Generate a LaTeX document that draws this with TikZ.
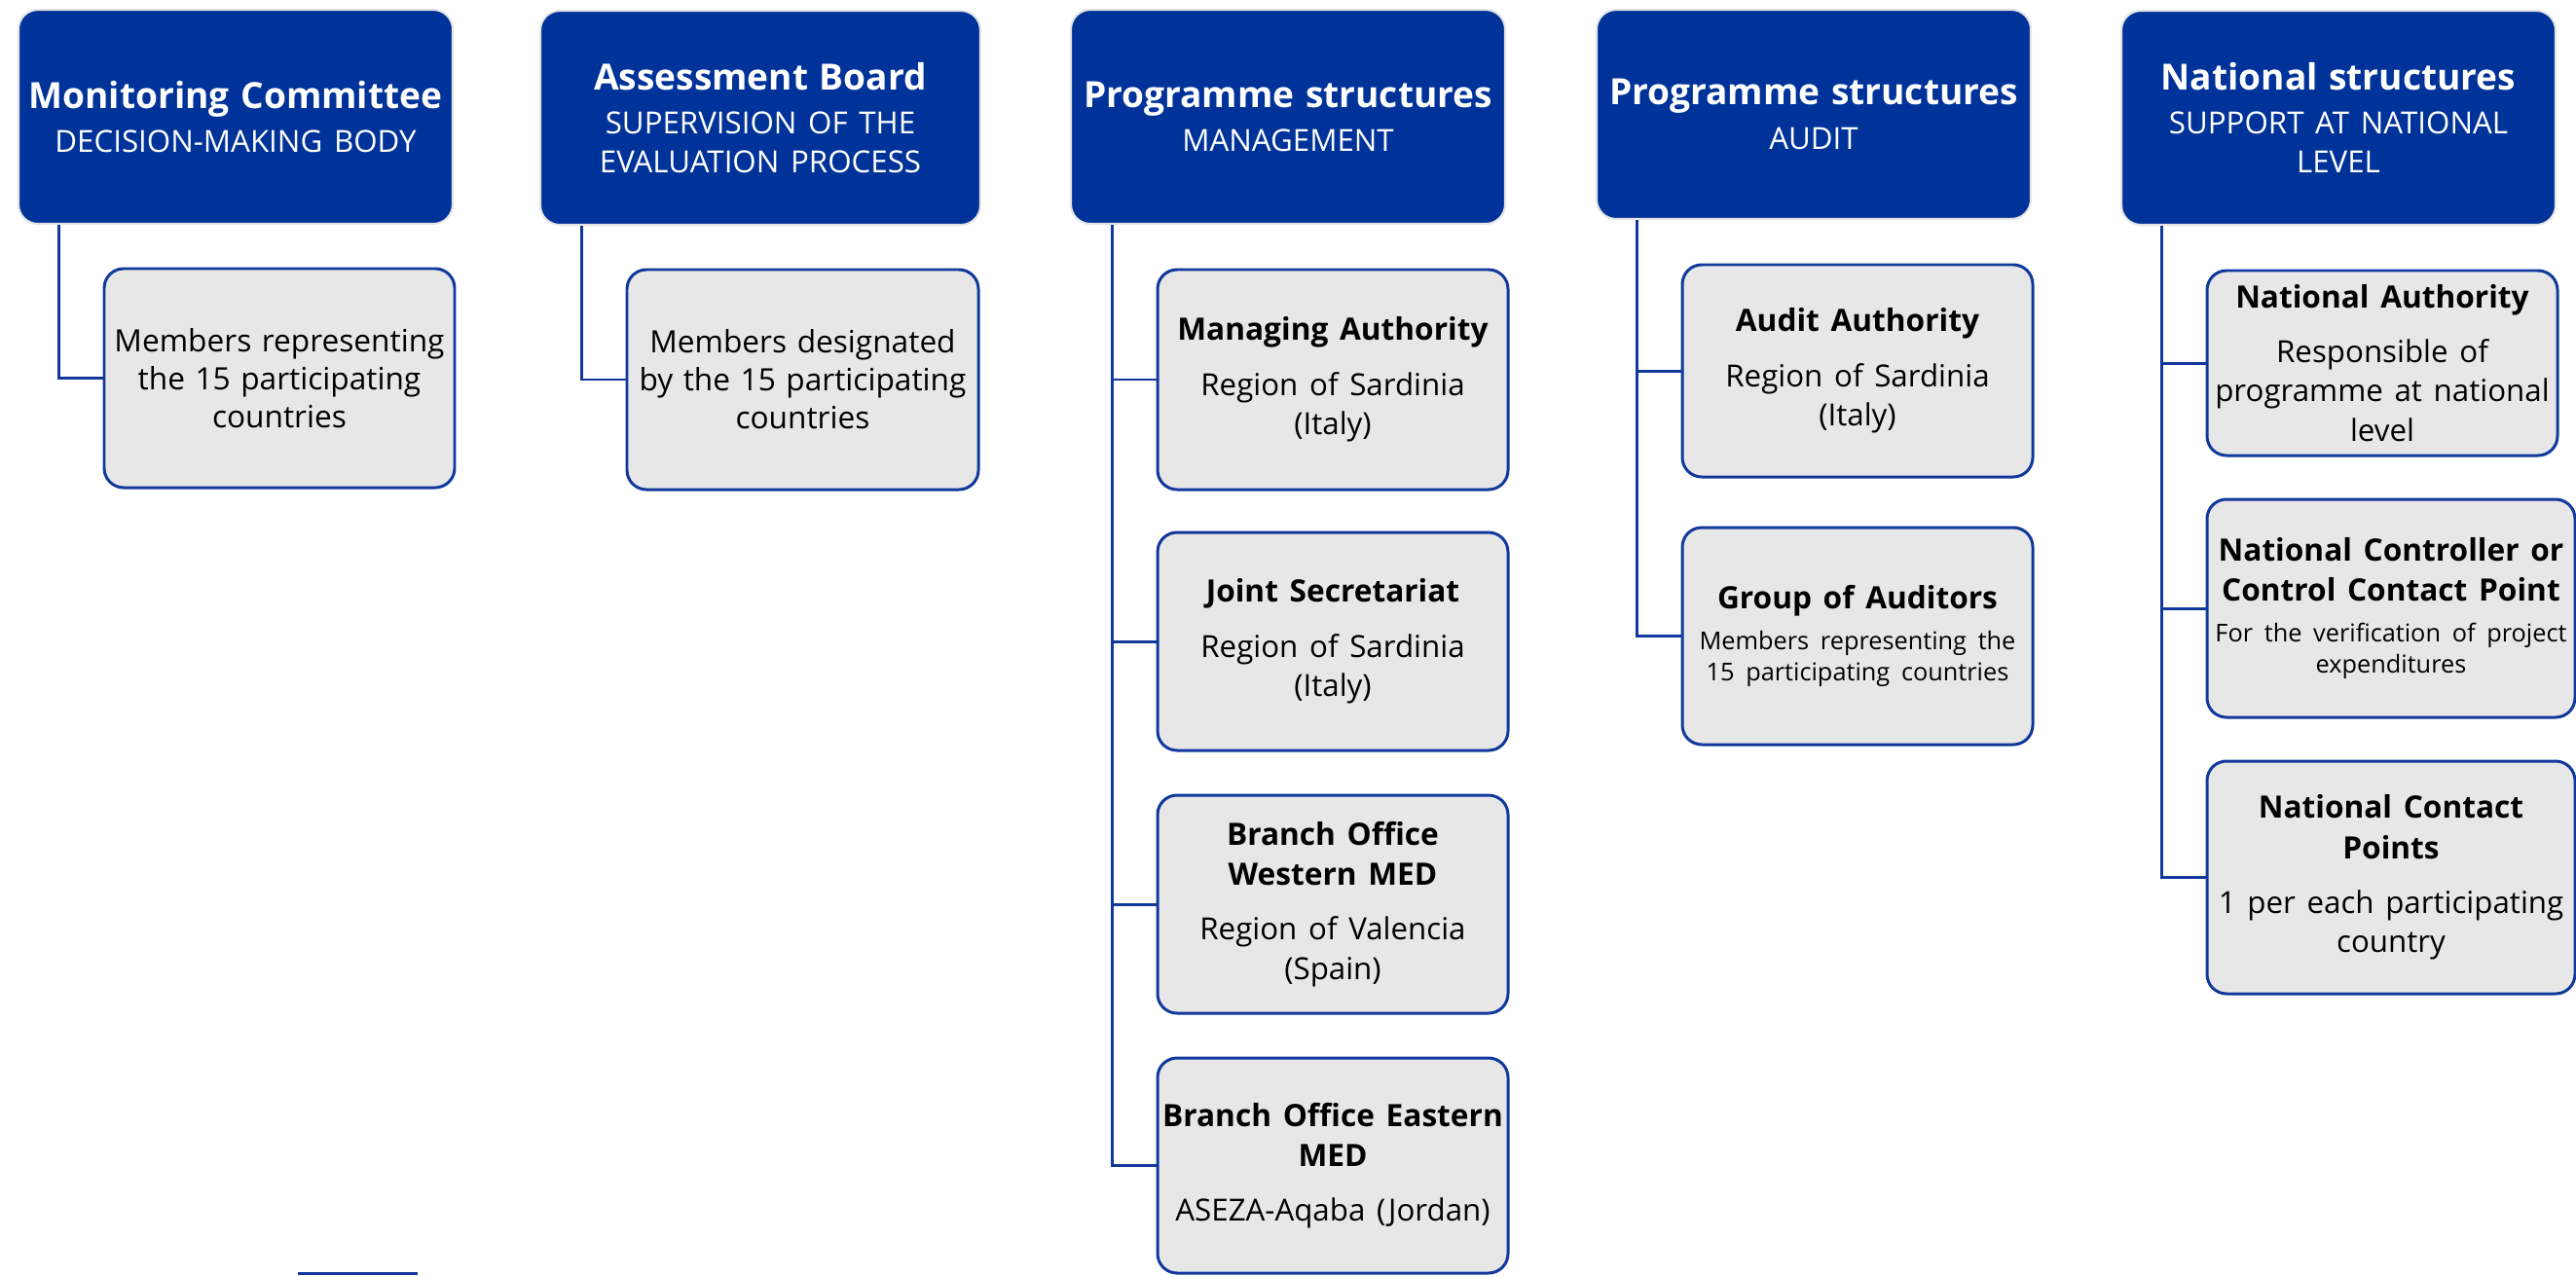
\documentclass[tikz,border=0pt]{standalone}
\usepackage{fontspec}
\setmainfont{Open Sans}

\definecolor{headblue}{HTML}{003399}
\definecolor{unitgray}{HTML}{E7E7E7}
\definecolor{lineblue}{HTML}{11399C}

\hyphenpenalty=10000
\exhyphenpenalty=10000

\newcommand{\headtext}[2]{{\fontsize{10.55}{13}\selectfont\bfseries #1\par}\vspace{1.5pt}{\fontsize{8.9}{11.4}\selectfont #2\par}}
\newcommand{\unittext}[2]{{\fontsize{9}{11.8}\selectfont\bfseries #1\par}\vspace{4.5pt}{\fontsize{8.9}{11.5}\selectfont #2\par}}
\newcommand{\unitsmall}[2]{{\fontsize{9}{11.8}\selectfont\bfseries #1\par}\vspace{3pt}{\fontsize{7.2}{9}\selectfont #2\par}}

\begin{document}
\begin{tikzpicture}[
    head/.style={draw=gray!20, line width=0.6pt, fill=headblue, rounded corners=0.2cm,
        text=white, align=center, text width=4.40cm, inner sep=0.03cm, minimum height=2.2cm},
    unit/.style={draw=lineblue, line width=0.85pt, fill=unitgray, rounded corners=0.2cm,
        align=center, text width=3.54cm, inner sep=0.03cm, minimum height=2.24cm},
    link/.style={draw=lineblue, line width=0.85pt},
]
    \useasboundingbox (0,0) rectangle (26.46,-13.10);

    % headers
    \node[head] (mc) at (2.42,-1.20) {\headtext{Monitoring Committee}{DECISION-MAKING BODY}};
    \node[head, text width=4.46cm] (ab) at (7.81,-1.21) {\headtext{Assessment Board}{SUPERVISION OF THE\\EVALUATION PROCESS}};
    \node[head] (pm) at (13.23,-1.20) {\headtext{Programme structures}{MANAGEMENT}};
    \node[head, minimum height=2.15cm] (pa) at (18.63,-1.175) {\headtext{Programme structures}{AUDIT}};
    \node[head] (ns) at (24.02,-1.21) {\headtext{National structures}{SUPPORT AT NATIONAL\\LEVEL}};

    % monitoring committee
    \node[unit, minimum height=2.25cm, font=\fontsize{9}{11.1}\selectfont] (mc1) at (2.87,-3.885)
        {Members representing\\the 15 participating\\countries};
    \draw[link] ([xshift=0.43cm]mc.south west) |- (mc1.west);

    % assessment board
    \node[unit, text width=3.55cm, minimum height=2.26cm, font=\fontsize{9}{11.1}\selectfont] (ab1) at (8.245,-3.90)
        {Members designated\\by the 15 participating\\countries};
    \draw[link] ([xshift=0.44cm]ab.south west) |- (ab1.west);

    % management
    \node[unit, minimum height=2.26cm] (pm1) at (13.69,-3.90) {\unittext{Managing Authority}{Region of Sardinia\\(Italy)}};
    \node[unit] (pm2) at (13.69,-6.59) {\unittext{Joint Secretariat}{Region of Sardinia\\(Italy)}};
    \node[unit] (pm3) at (13.69,-9.29) {\unittext{Branch Office\\Western MED}{Region of Valencia\\(Spain)}};
    \node[unit, minimum height=2.21cm] (pm4) at (13.69,-11.975) {\unittext{Branch Office Eastern\\MED}{ASEZA-Aqaba (Jordan)}};
    \draw[link] ([xshift=0.44cm]pm.south west) |- (pm4.west);
    \draw[link] ([xshift=0.44cm]pm.south west) |- (pm1.west);
    \draw[link] ([xshift=0.44cm]pm.south west) |- (pm2.west);
    \draw[link] ([xshift=0.44cm]pm.south west) |- (pm3.west);

    % audit
    \node[unit, minimum height=2.18cm] (pa1) at (19.08,-3.81) {\unittext{Audit Authority}{Region of Sardinia\\(Italy)}};
    \node[unit, minimum height=2.23cm] (pa2) at (19.08,-6.535) {\unitsmall{Group of Auditors}{Members representing the\\15 participating countries}};
    \draw[link] ([xshift=0.43cm]pa.south west) |- (pa2.west);
    \draw[link] ([xshift=0.43cm]pa.south west) |- (pa1.west);

    % national level
    \node[unit, minimum height=1.90cm] (ns1) at (24.47,-3.73) {\unittext{National Authority}{Responsible of\\programme at national\\level}};
    \node[unit, text width=3.72cm] (ns2) at (24.56,-6.25) {\unitsmall{National Controller or\\Control Contact Point}{For the verification of project\\expenditures}};
    \node[unit, text width=3.72cm, minimum height=2.39cm] (ns3) at (24.56,-9.015) {\unittext{National Contact\\Points}{1 per each participating\\country}};
    \draw[link] ([xshift=0.43cm]ns.south west) |- (ns3.west);
    \draw[link] ([xshift=0.43cm]ns.south west) |- (ns1.west);
    \draw[link] ([xshift=0.43cm]ns.south west) |- (ns2.west);

    \fill[lineblue] (3.06,-13.07) rectangle (4.29,-13.10);
\end{tikzpicture}
\end{document}
